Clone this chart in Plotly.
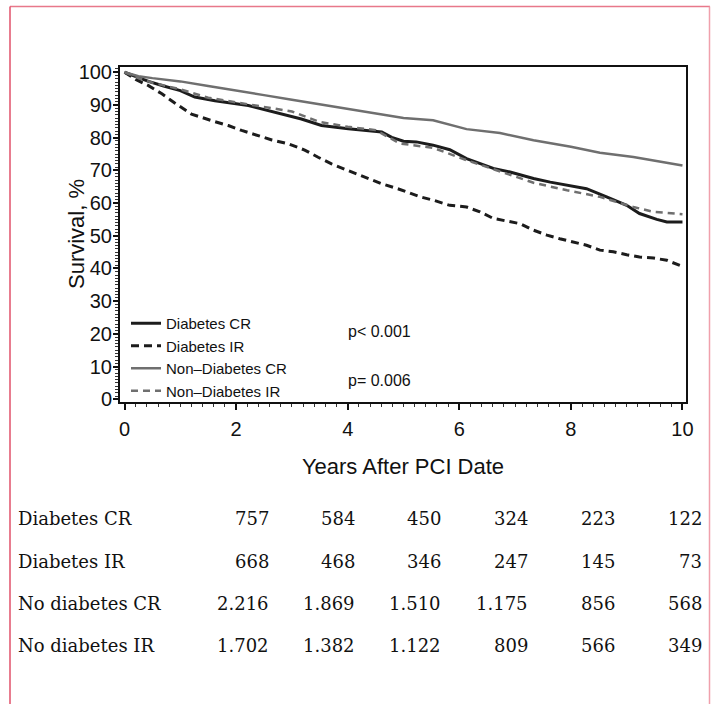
import plotly.graph_objects as go

# ---------------- data ----------------
d_cr_x = [0, 0.25, 0.43, 0.7, 1.0, 1.26, 1.62, 2.22, 2.82, 3.17, 3.53, 4.01, 4.61, 4.79, 5.0,
          5.23, 5.53, 5.83, 6.13, 6.61, 6.91, 7.33, 7.63, 8.04, 8.28, 8.64, 9.0, 9.23, 9.54, 9.72, 10.0]
d_cr_y = [100, 98.4, 97.2, 95.8, 94.4, 92.4, 91.3, 89.8, 87.3, 85.7, 83.7, 82.7, 81.7, 80.1, 78.9,
          78.7, 77.7, 76.3, 73.6, 70.6, 69.5, 67.5, 66.4, 65.0, 64.4, 61.9, 59.3, 56.8, 55.0, 54.2, 54.2]

d_ir_x = [0, 0.2, 0.43, 0.67, 0.9, 1.08, 1.2, 1.56, 1.86, 2.1, 2.4, 2.64, 2.94, 3.23, 3.47, 3.71,
          4.01, 4.31, 4.61, 4.91, 5.06, 5.3, 5.53, 5.83, 6.13, 6.37, 6.61, 6.85, 7.09, 7.33, 7.57,
          7.8, 8.04, 8.28, 8.52, 8.76, 9.0, 9.23, 9.48, 9.72, 10.0]
d_ir_y = [100, 97.8, 95.9, 93.4, 90.6, 88.5, 87.2, 85.2, 83.7, 82.2, 80.6, 79.3, 78.1, 76.2, 74.0, 72.0,
          69.9, 67.9, 65.9, 64.3, 63.4, 61.9, 60.9, 59.3, 58.8, 57.3, 55.3, 54.5, 53.7, 51.7, 50.2,
          49.1, 48.1, 47.1, 45.6, 45.1, 44.2, 43.5, 43.2, 42.5, 40.6]

nd_cr_x = [0, 0.25, 0.5, 1.0, 1.5, 2.0, 2.5, 3.0, 3.5, 4.0, 4.5, 5.0, 5.53, 6.13, 6.73,
           7.33, 8.0, 8.52, 9.12, 9.5, 10.0]
nd_cr_y = [100, 98.8, 98.2, 97.2, 95.8, 94.5, 93.0, 91.6, 90.2, 88.9, 87.4, 86.0, 85.3, 82.6, 81.4,
           79.2, 77.2, 75.4, 74.1, 73.0, 71.5]

nd_ir_x = [0, 0.25, 0.5, 1.0, 1.5, 2.0, 2.5, 3.0, 3.5, 4.0, 4.5, 4.94, 5.53, 6.13, 6.76,
           7.33, 7.93, 8.52, 9.12, 9.48, 10.0]
nd_ir_y = [100, 98.2, 96.8, 94.8, 92.2, 90.8, 89.6, 88.0, 84.8, 83.3, 82.3, 78.2, 76.9, 73.1, 69.5,
           66.2, 63.9, 61.9, 58.8, 57.3, 56.6]

series_names = ["Diabetes CR", "Diabetes IR", "Non\u2013Diabetes CR", "Non\u2013Diabetes IR"]

x_ticks = [0, 2, 4, 6, 8, 10]
y_ticks = [0, 10, 20, 30, 40, 50, 60, 70, 80, 90, 100]

p_values = ["p< 0.001", "p= 0.006"]

table_rows = ["Diabetes CR", "Diabetes IR", "No diabetes CR", "No diabetes IR"]
table_vals = [
    ["757", "584", "450", "324", "223", "122"],
    ["668", "468", "346", "247", "145", "73"],
    ["2.216", "1.869", "1.510", "1.175", "856", "568"],
    ["1.702", "1.382", "1.122", "809", "566", "349"],
]

# ---------------- layout geometry (pixels) ----------------
W, H = 711, 704
PL, PR, PT, PB = 120, 686, 67, 402   # plot area edges in pixels


def px2paper_x(px):
    return (px - PL) / (PR - PL)


def px2paper_y(py):
    return (PB - py) / (PB - PT)


BLACK = "#1c1c1c"
GRAY = "#6f6f6f"
SANS = "Liberation Sans, Arial, sans-serif"
SERIF = "DejaVu Serif, serif"

fig = go.Figure()
fig.add_trace(go.Scatter(x=d_cr_x, y=d_cr_y, mode="lines", name=series_names[0],
                         line=dict(color=BLACK, width=3)))
fig.add_trace(go.Scatter(x=d_ir_x, y=d_ir_y, mode="lines", name=series_names[1],
                         line=dict(color=BLACK, width=3, dash="8px,5px")))
fig.add_trace(go.Scatter(x=nd_cr_x, y=nd_cr_y, mode="lines", name=series_names[2],
                         line=dict(color=GRAY, width=2.5)))
fig.add_trace(go.Scatter(x=nd_ir_x, y=nd_ir_y, mode="lines", name=series_names[3],
                         line=dict(color=GRAY, width=2.5, dash="7px,5px")))

annotations = []
# p-values
annotations.append(dict(x=px2paper_x(379), y=px2paper_y(331), xref="paper", yref="paper",
                        text=p_values[0], showarrow=False, xanchor="center", yanchor="middle",
                        font=dict(family=SANS, size=16, color="#111")))
annotations.append(dict(x=px2paper_x(379), y=px2paper_y(380), xref="paper", yref="paper",
                        text=p_values[1], showarrow=False, xanchor="center", yanchor="middle",
                        font=dict(family=SANS, size=16, color="#111")))
# y-axis title
annotations.append(dict(x=px2paper_x(76), y=px2paper_y(234), xref="paper", yref="paper",
                        text="Survival, %", textangle=-90, showarrow=False,
                        xanchor="center", yanchor="middle",
                        font=dict(family=SANS, size=22, color="#111")))

# numbers-at-risk table
row_py = [518, 561, 603, 645]
col_right_px = [271, 357, 443, 530, 617, 704]
for r, (lab, vals) in enumerate(zip(table_rows, table_vals)):
    annotations.append(dict(x=px2paper_x(16), y=px2paper_y(row_py[r]), xref="paper", yref="paper",
                            text=lab, showarrow=False, xanchor="left", yanchor="middle",
                            font=dict(family=SERIF, size=18, color="#111")))
    for c, v in enumerate(vals):
        annotations.append(dict(x=px2paper_x(col_right_px[c]), y=px2paper_y(row_py[r]),
                                xref="paper", yref="paper", text=v, showarrow=False,
                                xanchor="right", yanchor="middle",
                                font=dict(family=SERIF, size=18, color="#111")))

shapes = [
    # outer pink frame (open at the bottom)
    dict(type="line", xref="paper", yref="paper", x0=px2paper_x(10), x1=px2paper_x(710),
         y0=px2paper_y(6.5), y1=px2paper_y(6.5), line=dict(color="#e8788a", width=1.5)),
    dict(type="line", xref="paper", yref="paper", x0=px2paper_x(10), x1=px2paper_x(10),
         y0=px2paper_y(6.5), y1=px2paper_y(720), line=dict(color="#e0506a", width=1.5)),
    dict(type="line", xref="paper", yref="paper", x0=px2paper_x(709.5), x1=px2paper_x(709.5),
         y0=px2paper_y(6.5), y1=px2paper_y(720), line=dict(color="#f0a0ac", width=1.5)),
]

x_lo = -0.081
x_hi = 10.063
y_lo = -0.83
y_hi = 101.6

fig.update_layout(
    width=W, height=H,
    margin=dict(l=PL, r=W - PR, t=PT, b=H - PB, pad=0),
    paper_bgcolor="white", plot_bgcolor="white",
    showlegend=True,
    legend=dict(x=px2paper_x(126), y=px2paper_y(307), xanchor="left", yanchor="top",
                bgcolor="rgba(0,0,0,0)", borderwidth=0, itemwidth=30,
                font=dict(family=SANS, size=15, color="#111"),
                tracegroupgap=0),
    annotations=annotations,
    shapes=shapes,
    xaxis=dict(range=[x_lo, x_hi], tickvals=x_ticks, ticktext=[str(t) for t in x_ticks],
               ticks="outside", ticklen=6, tickwidth=1.5, tickcolor="#111",
               showline=True, linecolor="#111", linewidth=2, mirror=True,
               showgrid=False, zeroline=False, ticklabelstandoff=2,
               tickfont=dict(family=SANS, size=20, color="#111"),
               minor=dict(dtick=0.2, tick0=0, ticks="outside", ticklen=3, tickwidth=1, tickcolor="#333"),
               title=dict(text="Years After PCI Date", standoff=20,
                          font=dict(family=SANS, size=22, color="#111"))),
    yaxis=dict(range=[y_lo, y_hi], tickvals=y_ticks, ticktext=[str(t) for t in y_ticks],
               ticks="outside", ticklen=5, tickwidth=1.5, tickcolor="#111",
               showline=True, linecolor="#111", linewidth=2, mirror=True,
               showgrid=False, zeroline=False, ticklabelstandoff=-3,
               tickfont=dict(family=SANS, size=20, color="#111"),
               minor=dict(dtick=1, tick0=0, ticks="outside", ticklen=3, tickwidth=1, tickcolor="#333")),
)

fig.write_html("out.html")
